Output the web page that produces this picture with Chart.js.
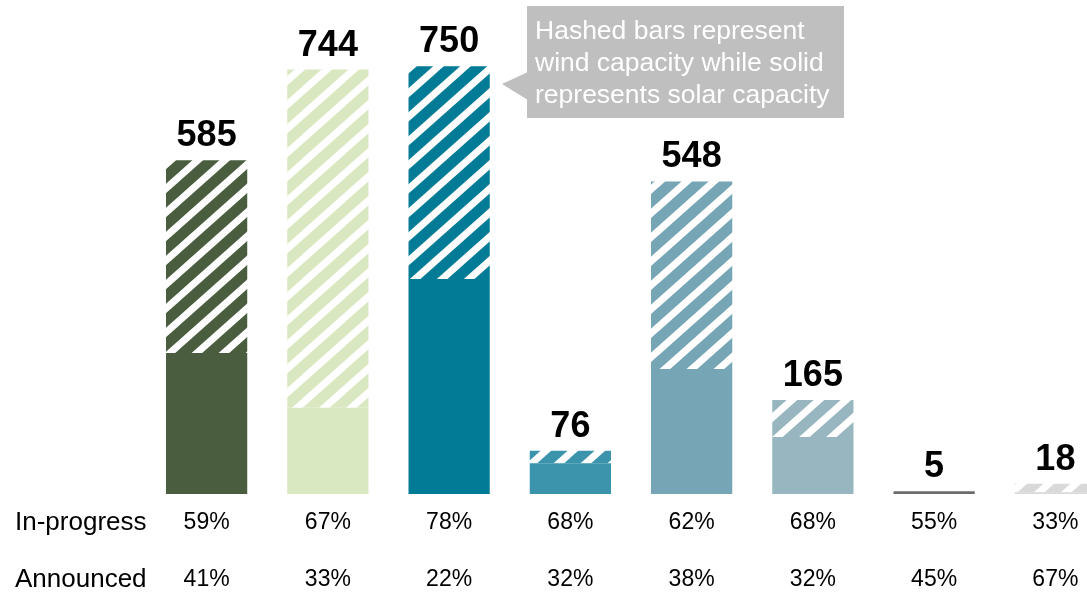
<!DOCTYPE html>
<html>
<head>
<meta charset="utf-8">
<script src="https://cdn.jsdelivr.net/npm/chart.js@4.4.1/dist/chart.umd.min.js"></script>
<style>
  html, body { margin: 0; padding: 0; background: #fff; overflow: hidden; }
  #wrap { width: 1120px; height: 596px; }
</style>
</head>
<body>
<div id="wrap"><canvas id="chart" width="1120" height="596"></canvas></div>
<script>
// --- Data ---
const categories = ['1', '2', '3', '4', '5', '6', '7', '8'];
const solarValues = [247, 151, 377, 54, 219, 100, 5, 3];
const windValues = [338, 593, 373, 22, 329, 65, 0, 15];
const totalLabels = ['585', '744', '750', '76', '548', '165', '5', '18'];
const inProgress = ['59%', '67%', '78%', '68%', '62%', '68%', '55%', '33%'];
const announced = ['41%', '33%', '22%', '32%', '38%', '32%', '45%', '67%'];
const rowLabels = ['In-progress', 'Announced'];
const calloutLines = ['Hashed bars represent', 'wind capacity while solid', 'represents solar capacity'];

const barColors = ['#4a5e3f', '#dae8c2', '#027b96', '#3b93ac', '#76a5b5', '#98b6bf', '#6b6b6b', '#d9d9d9'];

// hatch pattern: white diagonal stripes over the bar colour
function hatch(color) {
    const w = 27, h = 24;
    const c = document.createElement('canvas');
    c.width = w; c.height = h;
    const ctx = c.getContext('2d');
    ctx.fillStyle = color;
    ctx.fillRect(0, 0, w, h);
    ctx.strokeStyle = '#fff';
    ctx.lineWidth = 7;
    [-w, 0, w].forEach(dx => {
        ctx.beginPath();
        ctx.moveTo(dx - w, 2 * h);
        ctx.lineTo(dx + 2 * w, -h);
        ctx.stroke();
    });
    return ctx.createPattern(c, 'repeat');
}

const font = '"Liberation Sans", Arial, sans-serif';

const overlay = {
    id: 'overlay',
    afterDatasetsDraw(chart) {
        const ctx = chart.ctx;
        const x = chart.scales.x;
        const top = chart.getDatasetMeta(1).data;
        ctx.save();
        // totals above bars
        ctx.fillStyle = '#000';
        ctx.font = 'bold 36px ' + font;
        ctx.textAlign = 'center';
        ctx.textBaseline = 'alphabetic';
        top.forEach((bar, i) => {
            ctx.fillText(totalLabels[i], bar.x, bar.y - 14);
        });
        // percentage rows
        ctx.font = '23px ' + font;
        ctx.textBaseline = 'middle';
        categories.forEach((c, i) => {
            const px = x.getPixelForValue(i);
            ctx.fillText(inProgress[i], px, 523);
            ctx.fillText(announced[i], px, 580);
        });
        ctx.textAlign = 'left';
        ctx.font = '26px ' + font;
        ctx.fillText(rowLabels[0], 15, 523);
        ctx.fillText(rowLabels[1], 15, 580);

        // callout box
        ctx.fillStyle = '#bfbfbf';
        ctx.fillRect(527, 6, 317, 112);
        ctx.beginPath();
        ctx.moveTo(528, 72);
        ctx.lineTo(502, 84);
        ctx.lineTo(528, 100);
        ctx.closePath();
        ctx.fill();
        ctx.fillStyle = '#fff';
        ctx.font = '26.5px ' + font;
        calloutLines.forEach((t, i) => ctx.fillText(t, 535, 32 + i * 32));
        ctx.restore();
    }
};

new Chart(document.getElementById('chart'), {
    type: 'bar',
    data: {
        labels: categories,
        datasets: [{
            label: 'Solar',
            data: solarValues,
            backgroundColor: barColors
        }, {
            label: 'Wind',
            data: windValues,
            backgroundColor: barColors.map(hatch)
        }]
    },
    options: {
        responsive: false,
        animation: false,
        events: [],
        layout: { padding: { left: 146, right: 4, top: 0, bottom: 102 } },
        datasets: { bar: { categoryPercentage: 1, barPercentage: 0.67 } },
        plugins: { legend: { display: false }, tooltip: { enabled: false } },
        scales: {
            x: { stacked: true, display: false },
            y: { stacked: true, display: false, min: 0, max: 866 }
        }
    },
    plugins: [overlay]
});
</script>
</body>
</html>
